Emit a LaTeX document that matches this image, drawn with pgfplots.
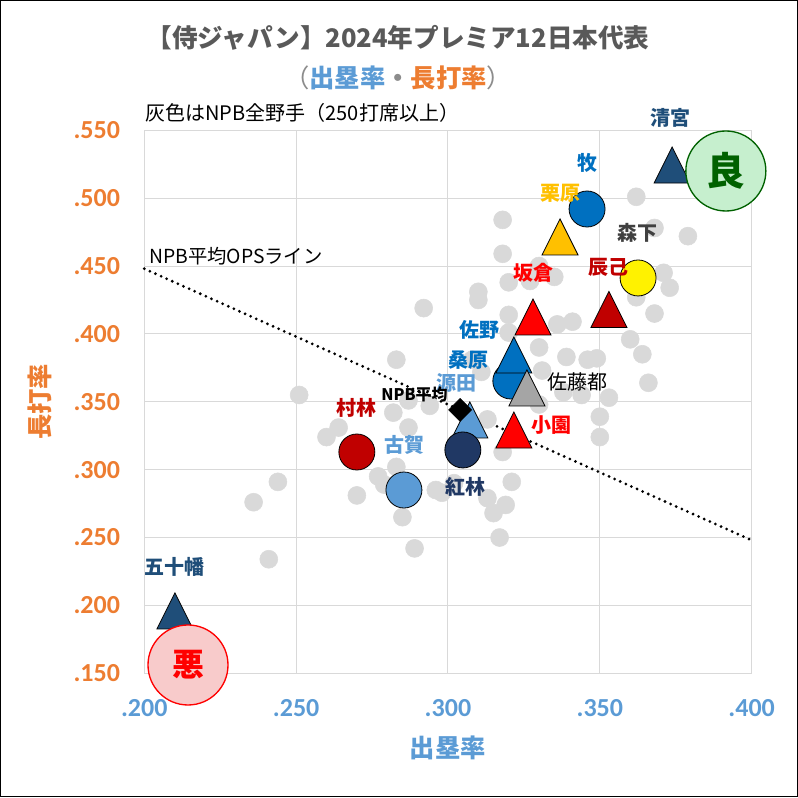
\documentclass[border=0pt]{standalone}
\usepackage{fontspec}
\setmainfont{Noto Sans CJK JP}
\newfontfamily\carlito{Carlito}
\usepackage{pgfplots}
\pgfplotsset{compat=1.18}
\definecolor{gdot}{HTML}{D9D9D9}
\definecolor{gridc}{HTML}{D9D9D9}
\definecolor{xblue}{HTML}{5B9BD5}
\definecolor{yorange}{HTML}{ED7D31}
\definecolor{ttl}{HTML}{595959}
\definecolor{dkblue}{HTML}{1F4E79}
\definecolor{mblue}{HTML}{0070C0}
\definecolor{gold}{HTML}{FFC000}
\definecolor{dred}{HTML}{C00000}
\definecolor{navy}{HTML}{203864}
\definecolor{gtri}{HTML}{A5A5A5}
\definecolor{goodfill}{HTML}{C6EFCE}
\definecolor{goodline}{HTML}{006100}
\definecolor{badfill}{HTML}{F8CBCB}
\definecolor{dgray}{HTML}{404040}
\definecolor{paren}{HTML}{8C8C8C}
\pgfplotstableread{
x y
.362 .501
.368 .478
.379 .472
.371 .445
.373 .434
.362 .427
.368 .415
.360 .396
.364 .385
.366 .364
.318 .484
.318 .459
.330 .450
.335 .442
.327 .439
.320 .438
.310 .431
.310 .425
.320 .414
.336 .407
.341 .409
.330 .390
.339 .383
.346 .381
.349 .382
.353 .353
.350 .339
.350 .324
.331 .373
.338 .357
.344 .355
.330 .348
.318 .313
.321 .291
.313 .279
.319 .274
.315 .268
.317 .250
.313 .337
.298 .283
.302 .290
.277 .295
.283 .302
.279 .289
.285 .265
.289 .242
.296 .285
.283 .381
.251 .355
.282 .342
.287 .351
.294 .347
.287 .331
.264 .331
.260 .324
.270 .281
.244 .291
.236 .276
.241 .234
.292 .419
.308 .381
.311 .372
.320 .401
}\graydata
\begin{document}
\begin{tikzpicture}
\draw[black, line width=0.75pt] (0.375pt,0.375pt) rectangle (598.125pt,597.375pt);
\node[font=\bfseries\fontsize{19.2}{19.2}\selectfont, text=ttl] at (298.5pt,569.25pt) {【侍ジャパン】2024年プレミア12日本代表};
\node[font=\bfseries\fontsize{19}{19}\selectfont] at (298.5pt,539.25pt) {{\mdseries\color{paren}（}\textcolor{xblue}{出塁率}\textcolor{paren}{・}\textcolor{yorange}{長打率}{\mdseries\color{paren}）}};
\begin{axis}[
  set layers,
  at={(108.2pt,92.8pt)}, anchor=south west, scale only axis,
  width=455.55pt, height=407.25pt,
  xmin=0.2, xmax=0.4, ymin=0.15, ymax=0.55,
  xtick={0.2,0.25,0.3,0.35,0.4},
  xticklabels={.200,.250,.300,.350,.400},
  ytick={0.15,0.2,0.25,0.3,0.35,0.4,0.45,0.5,0.55},
  yticklabels={.150,.200,.250,.300,.350,.400,.450,.500,.550},
  grid=major, major grid style={draw=gridc, line width=0.75pt},
  axis line style={draw=gridc, line width=0.75pt},
  major tick length=0pt, clip=false,
  xticklabel style={font=\carlito\bfseries\fontsize{19.5}{19.5}\selectfont, text=xblue, anchor=north, inner sep=0pt, yshift=-19.5pt},
  yticklabel style={font=\carlito\bfseries\fontsize{19.5}{19.5}\selectfont, text=yorange, anchor=east, inner sep=0pt, xshift=-18pt},
  xlabel={出塁率}, ylabel={長打率},
  xlabel style={font=\bfseries\fontsize{19}{19}\selectfont, text=xblue, at={(axis description cs:0.5,-0.1381)}, anchor=center},
  ylabel style={font=\bfseries\fontsize{19}{19}\selectfont, text=yorange, at={(axis description cs:-0.1712,0.5)}, anchor=center},
]
\addplot[only marks, mark=*, mark size=6.75pt, color=gdot, mark options={draw=gdot, fill=gdot}] table {\graydata};
\addplot[black, line width=2.3pt, dash pattern=on 0pt off 4.6pt, line cap=round] coordinates {(0.2,0.448) (0.4,0.248)};
% players
\addplot[only marks, mark=*, mark size=13.5pt, mark options={draw=black, line width=0.6pt, fill=mblue}] coordinates {(0.3207,0.3653)};
\addplot[only marks, mark=triangle*, mark size=18pt, mark options={draw=black, line width=0.6pt, fill=mblue, xscale=0.866, yshift=-4.5pt}] coordinates {(0.3217,0.3845)};
\addplot[only marks, mark=triangle*, mark size=18pt, mark options={draw=black, line width=0.6pt, fill=gtri, xscale=0.866, yshift=-4.5pt}] coordinates {(0.3260,0.3602)};
\addplot[only marks, mark=triangle*, mark size=18pt, mark options={draw=black, line width=0.6pt, fill=xblue, xscale=0.866, yshift=-4.5pt}] coordinates {(0.3072,0.3366)};
\addplot[only marks, mark=square*, mark size=6.1pt, mark options={draw=black, fill=black, rotate=45}] coordinates {(0.3040,0.3440)};
\addplot[only marks, mark=*, mark size=13.5pt, mark options={draw=black, line width=0.6pt, fill=navy}] coordinates {(0.3049,0.3145)};
\addplot[only marks, mark=triangle*, mark size=18pt, mark options={draw=black, line width=0.6pt, fill=red, xscale=0.866, yshift=-4.5pt}] coordinates {(0.3217,0.3292)};
\addplot[only marks, mark=triangle*, mark size=18pt, mark options={draw=black, line width=0.6pt, fill=red, xscale=0.866, yshift=-4.5pt}] coordinates {(0.3280,0.4125)};
\addplot[only marks, mark=triangle*, mark size=18pt, mark options={draw=black, line width=0.6pt, fill=dred, xscale=0.866, yshift=-4.5pt}] coordinates {(0.3530,0.4180)};
\addplot[only marks, mark=*, mark size=13.5pt, mark options={draw=black, line width=0.6pt, fill=yellow}] coordinates {(0.3626,0.4412)};
\addplot[only marks, mark=triangle*, mark size=18pt, mark options={draw=black, line width=0.6pt, fill=gold, xscale=0.866, yshift=-4.5pt}] coordinates {(0.3369,0.4714)};
\addplot[only marks, mark=*, mark size=13.5pt, mark options={draw=black, line width=0.6pt, fill=mblue}] coordinates {(0.3458,0.4920)};
\addplot[only marks, mark=triangle*, mark size=18pt, mark options={draw=black, line width=0.6pt, fill=dkblue, xscale=0.866, yshift=-4.5pt}] coordinates {(0.3738,0.5244)};
\addplot[only marks, mark=*, mark size=13.5pt, mark options={draw=black, line width=0.6pt, fill=dred}] coordinates {(0.2700,0.3130)};
\addplot[only marks, mark=*, mark size=13.5pt, mark options={draw=black, line width=0.6pt, fill=xblue}] coordinates {(0.2855,0.2850)};
\addplot[only marks, mark=triangle*, mark size=18pt, mark options={draw=black, line width=0.6pt, fill=dkblue, xscale=0.866, yshift=-4.5pt}] coordinates {(0.2101,0.1959)};
% good / bad
\addplot[only marks, mark=*, mark size=30pt, mark options={draw=goodline, line width=1pt, fill=goodfill}] coordinates {(0.3915,0.5200)};
\addplot[only marks, mark=*, mark size=30pt, mark options={draw=red, line width=1pt, fill=badfill}] coordinates {(0.2144,0.1561)};
\begin{pgfonlayer}{axis foreground}
\node[font=\bfseries\fontsize{29}{29}\selectfont, text=goodline] at (axis cs:0.3915,0.5200) {良};
\node[font=\bfseries\fontsize{24}{24}\selectfont, text=red] at (axis cs:0.2144,0.1561) {悪};
\node[anchor=west, inner sep=0pt, font=\fontsize{15}{15}\selectfont] at (axis cs:0.2003,0.5627) {灰色はNPB全野手（250打席以上）};
\node[anchor=west, inner sep=0pt, font=\fontsize{14.5}{14.5}\selectfont] at (axis cs:0.2015,0.4574) {NPB平均OPSライン};
\begin{scope}[every node/.style={font=\bfseries\fontsize{15}{15}\selectfont}]
\node[text=dkblue] at (axis cs:0.3733,0.5591) {清宮};
\node[text=mblue] at (axis cs:0.3461,0.5259) {牧};
\node[text=gold] at (axis cs:0.3369,0.5038) {栗原};
\node[text=dgray] at (axis cs:0.3625,0.4743) {森下};
\node[text=dred] at (axis cs:0.3530,0.4493) {辰己};
\node[text=red] at (axis cs:0.3280,0.4449) {坂倉};
\node[text=mblue] at (axis cs:0.3105,0.4029) {佐野};
\node[text=mblue] at (axis cs:0.3066,0.3808) {桑原};
\node[text=xblue] at (axis cs:0.3029,0.3638) {源田};
\node[text=black, font=\bfseries\fontsize{12}{12}\selectfont] at (axis cs:0.2890,0.3555) {NPB平均};
\node[text=black, font=\fontsize{15}{15}\selectfont] at (axis cs:0.3428,0.3646) {佐藤都};
\node[text=red] at (axis cs:0.3342,0.3329) {小園};
\node[text=navy] at (axis cs:0.3059,0.2872) {紅林};
\node[text=dred] at (axis cs:0.2700,0.3454) {村林};
\node[text=xblue] at (axis cs:0.2858,0.3182) {古賀};
\node[text=dkblue] at (axis cs:0.2101,0.2283) {五十幡};
\end{scope}
\end{pgfonlayer}
\end{axis}
\end{tikzpicture}
\end{document}
